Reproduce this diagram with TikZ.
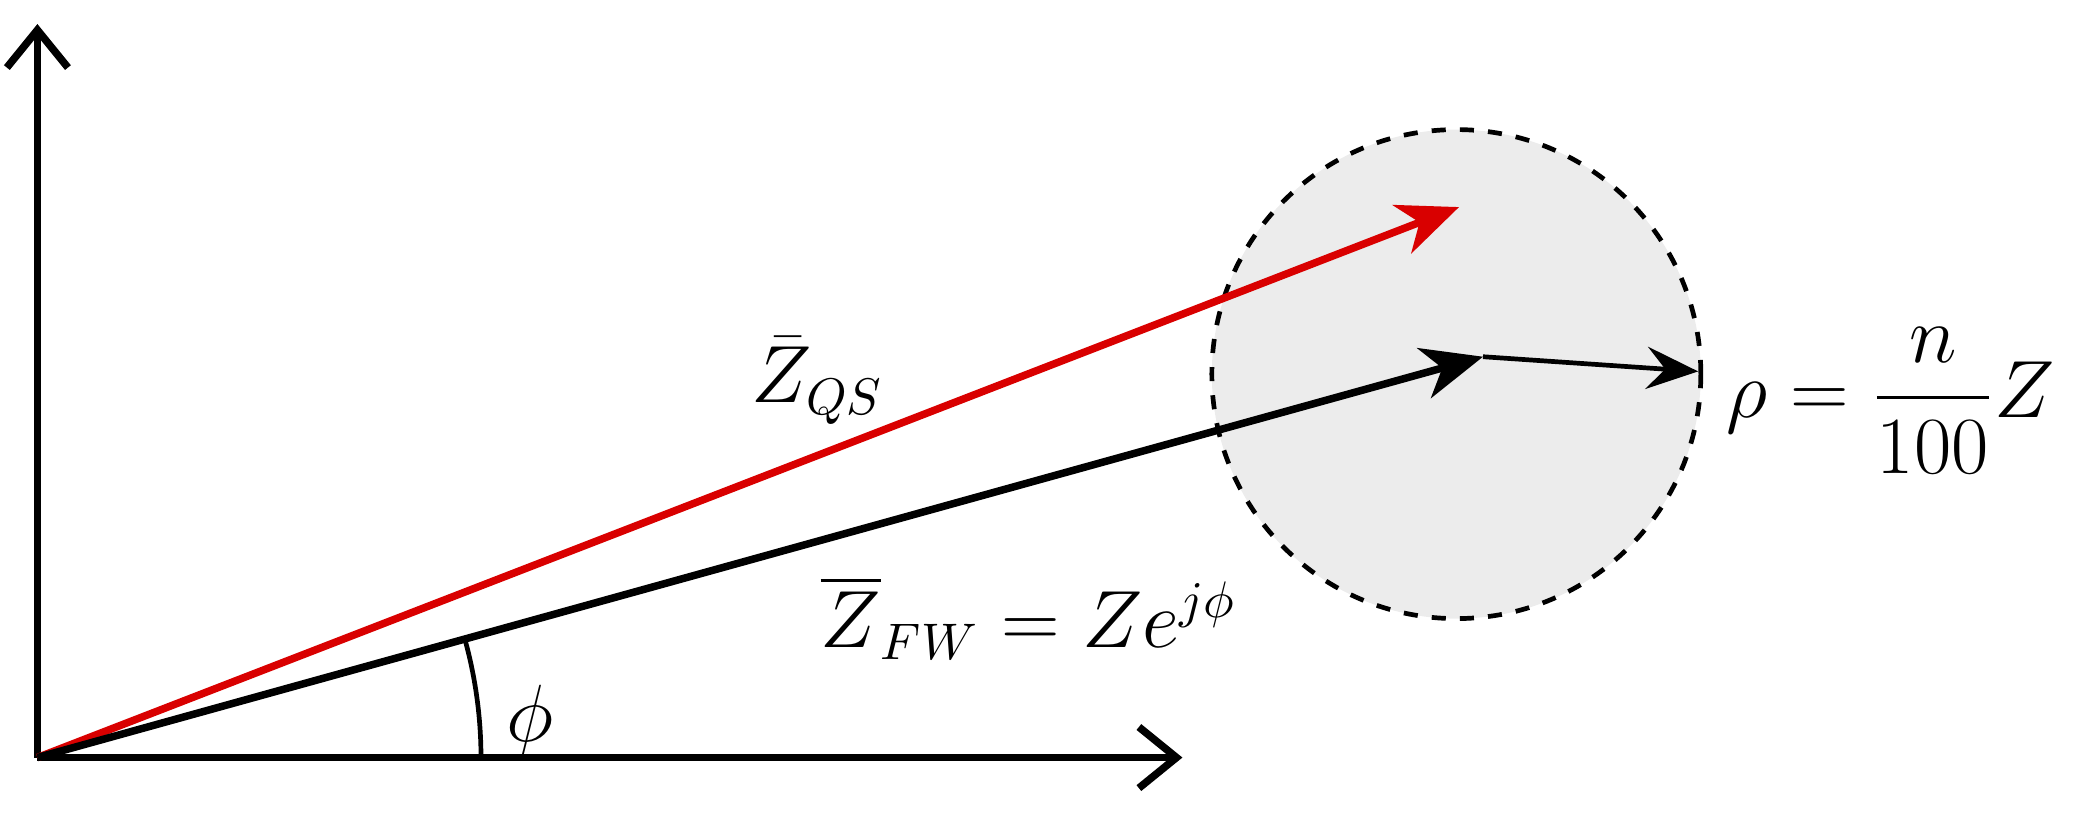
\documentclass[tikz,border=0pt]{standalone}
\usepackage{amsmath}
\usetikzlibrary{arrows.meta}
\begin{document}
\begin{tikzpicture}[x=0.01cm, y=-0.01cm,
  axis/.style = {line width=1.6pt, -{Straight Barb[length=8pt,width=13pt]}},
  phasor/.style = {line width=1.6pt, -{Stealth[length=13pt,width=11pt,inset=4pt]}},
  lbl/.style = {font=\fontsize{16}{19}\selectfont}]
\useasboundingbox (0,0) rectangle (1568,610);
\coordinate (o) at (28,567);
\coordinate (ytip) at (28,18);
\coordinate (xtip) at (885,567);
\coordinate (qs) at (1092,155);
\coordinate (fw) at (1110,267);
\coordinate (rim) at (1271,278);
\coordinate (c) at (1090,280);
\filldraw [fill=gray!15, dashed, line width=1pt] (c) circle (183);
\draw [axis] (o) -- (ytip);
\draw [axis] (o) -- (xtip);
\draw [phasor, red!85!black] (o) -- (qs);
\draw [phasor] (o) -- (fw);
\draw [line width=1pt, -{Stealth[length=11pt,width=9pt,inset=4pt]}] (fw) -- (rim);
\draw [line width=1pt] (o) ++(332,0) arc (0:-15.5:332);
\node [lbl] (zqs) at (612,285) {$\bar{Z}_{QS}$};
\node [lbl] (zfw) at (770,462) {$\overline{Z}_{FW}=Ze^{j\phi}$};
\node [lbl] (phi) at (397,540) {$\phi$};
\node [lbl] (rho) at (1415,300) {$\rho=\dfrac{n}{100}Z$};
\end{tikzpicture}
\end{document}
